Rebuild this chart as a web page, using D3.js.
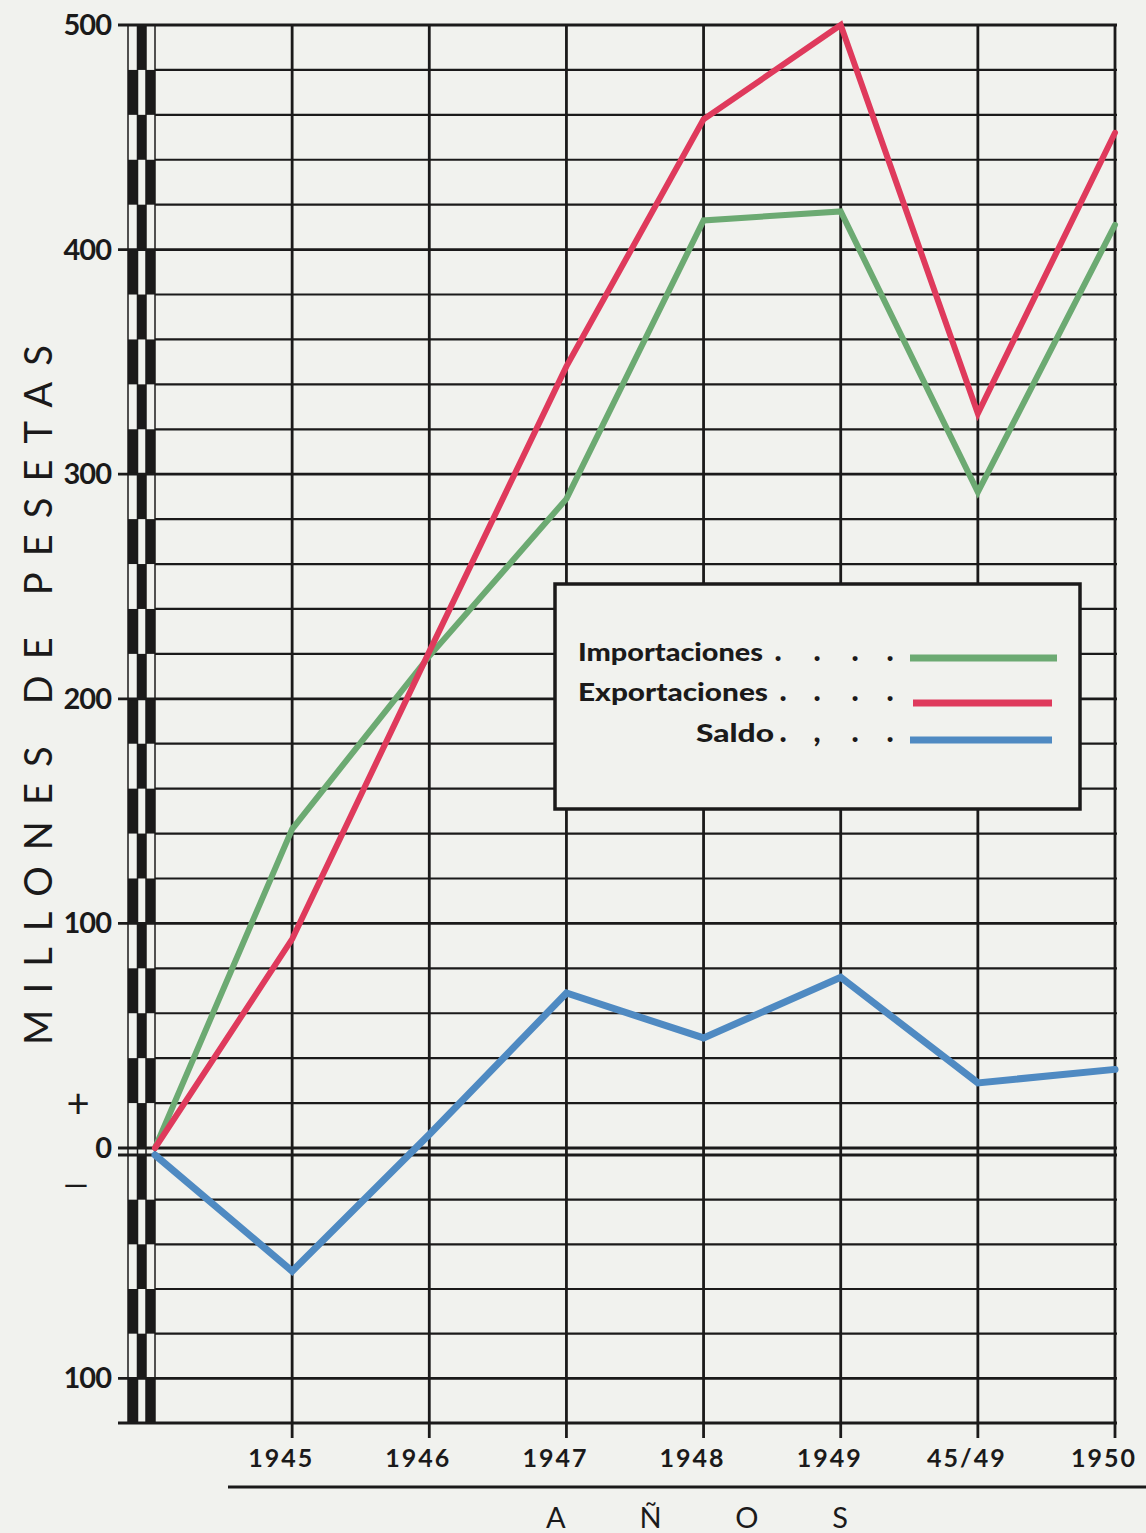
<!DOCTYPE html>
<html>
<head>
<meta charset="utf-8">
<script src="https://cdn.jsdelivr.net/npm/d3@7/dist/d3.min.js"></script>
<style>
  html, body { margin: 0; padding: 0; background: #f1f2ee; }
  svg { display: block; }
  text { font-family: "Lato", "DejaVu Sans", sans-serif; fill: #1b1a1a; }
</style>
</head>
<body>
<svg id="chart" width="1146" height="1533"></svg>
<script>
// Years on the horizontal axis (first slot is the origin, unlabeled)
const categories = ["", "1945", "1946", "1947", "1948", "1949", "45/49", "1950"];
// Millions of pesetas
const importaciones = [0, 142, 219, 289, 413, 417, 292, 411];
const exportaciones = [0, 93, 221, 348, 458, 500, 327, 452];
const saldo = [0, -52, 6, 69, 49, 76, 29, 35];
// Vertical axis labels (negative side is labelled by magnitude)
const yTickValues = [500, 400, 300, 200, 100, 0, -100];
const yTickLabels = ["500", "400", "300", "200", "100", "0", "100"];
const seriesNames = ["Importaciones", "Exportaciones", "Saldo"];
const seriesColors = ["#6caa72", "#df3a5c", "#4f8ac2"];

const svg = d3.select("#chart");
const ink = "#1b1a1a";

// Scales: the positive and negative halves are drawn from separate baselines
const x = d3.scalePoint().domain(categories).range([155, 1115]);
const yPos = d3.scaleLinear().domain([0, 500]).range([1148, 25]);
const yNeg = d3.scaleLinear().domain([-120, 0]).range([1423, 1155]);
const yAny = v => v > 0 ? yPos(v) : yNeg(v);

const xLeft = x(categories[0]);
const xRight = x(categories[categories.length - 1]);

// Checkered band along the left edge
const band = svg.append("g");
const cols = [128, 137.5, 146, 155];
function bandRows(scale, lo, hi, startParity) {
  const rows = d3.range(lo, hi, 20);
  rows.forEach((v, i) => {
    const yTop = scale(v + 20), yBot = scale(v);
    for (let c = 0; c < 3; c++) {
      const black = ((i + c + startParity) % 2) === 0;
      if (black) {
        band.append("rect")
          .attr("x", cols[c]).attr("y", yTop)
          .attr("width", cols[c + 1] - cols[c]).attr("height", yBot - yTop)
          .attr("fill", ink);
      }
    }
  });
}
bandRows(yPos, 0, 500, 1);
bandRows(yNeg, -120, 0, 0);
cols.forEach(cx => {
  band.append("line")
    .attr("x1", cx).attr("x2", cx)
    .attr("y1", yPos(500)).attr("y2", yNeg(-120))
    .attr("stroke", ink).attr("stroke-width", 1.5);
});

// Horizontal grid lines every 20 units
const grid = svg.append("g").attr("stroke", ink);
const posLines = d3.range(0, 501, 20);
const negLines = d3.range(-120, 1, 20);
posLines.forEach(v => {
  const major = v % 100 === 0;
  grid.append("line")
    .attr("x1", major ? 118 : xLeft).attr("x2", xRight + 2)
    .attr("y1", yPos(v)).attr("y2", yPos(v))
    .attr("stroke-width", major ? 2.8 : 2.2);
});
negLines.forEach(v => {
  const major = v % 100 === 0 || v === -120;
  grid.append("line")
    .attr("x1", major ? 118 : xLeft).attr("x2", xRight + 2)
    .attr("y1", yNeg(v)).attr("y2", yNeg(v))
    .attr("stroke-width", major ? 2.8 : 2.2);
});

// Vertical grid lines, continuing below the frame as ticks
categories.slice(1).forEach(c => {
  grid.append("line")
    .attr("x1", x(c)).attr("x2", x(c))
    .attr("y1", yPos(500)).attr("y2", yNeg(-120) + 15)
    .attr("stroke-width", 2.8);
});

// Vertical axis labels
const yLab = svg.append("g");
yTickValues.forEach((v, i) => {
  yLab.append("text")
    .attr("x", 111).attr("y", (v >= 0 ? yPos(v) : yNeg(v)) + 10)
    .attr("text-anchor", "end")
    .attr("font-size", 29).attr("font-weight", 700)
    .attr("letter-spacing", -1)
    .text(yTickLabels[i]);
});
yLab.append("text").attr("x", 78).attr("y", 1118)
  .attr("text-anchor", "middle").attr("font-size", 40).text("+");
yLab.append("text").attr("x", 76).attr("y", 1196)
  .attr("text-anchor", "middle").attr("font-size", 32).text("—");

// Vertical axis title
svg.append("text")
  .attr("transform", "translate(52,695) rotate(-90)")
  .attr("text-anchor", "middle")
  .attr("font-size", 38).attr("font-weight", 400)
  .attr("textLength", 700).attr("lengthAdjust", "spacing")
  .text("MILLONES DE PESETAS");

// Horizontal axis labels
categories.slice(1).forEach(c => {
  svg.append("text")
    .attr("x", x(c) - 11).attr("y", 1467)
    .attr("text-anchor", "middle")
    .attr("font-size", 25).attr("font-weight", 700)
    .attr("letter-spacing", 2)
    .text(c);
});
svg.append("line")
  .attr("x1", 228).attr("x2", 1146)
  .attr("y1", 1487).attr("y2", 1487)
  .attr("stroke", ink).attr("stroke-width", 3);
svg.append("text")
  .attr("x", 546).attr("y", 1528)
  .attr("font-size", 29).attr("font-weight", 400)
  .attr("textLength", 302).attr("lengthAdjust", "spacing")
  .text("AÑOS");

// Data lines
const line = d3.line().x((d, i) => x(categories[i]));
const seriesData = [importaciones, exportaciones, saldo];
seriesData.forEach((vals, k) => {
  const yf = k === 2 ? yAny : yPos;
  svg.append("path")
    .datum(vals)
    .attr("d", line.y(d => yf(d)))
    .attr("fill", "none")
    .attr("stroke", seriesColors[k])
    .attr("stroke-width", k === 2 ? 7 : 6)
    .attr("stroke-linejoin", "miter")
    .attr("stroke-linecap", "round");
});

// Legend box
const lg = svg.append("g");
lg.append("rect")
  .attr("x", 555).attr("y", 584).attr("width", 525).attr("height", 225)
  .attr("fill", "#f1f2ee").attr("stroke", ink).attr("stroke-width", 3.5);
const legendRows = [
  { x0: 578, len: 185, y: 661, dots: [".", ".", ".", "."], dx: [778, 817, 855, 890], line: [910, 1057, 658] },
  { x0: 578, len: 190, y: 701, dots: [".", ".", ".", "."], dx: [783, 817, 855, 890], line: [913, 1052, 703] },
  { x0: 696, len: 78,  y: 742, dots: [".", ",", ".", "."], dx: [783, 817, 855, 890], line: [910, 1052, 740] }
];
legendRows.forEach((r, i) => {
  lg.append("text")
    .attr("x", r.x0).attr("y", r.y)
    .attr("font-size", 24).attr("font-weight", 900)
    .attr("textLength", r.len).attr("lengthAdjust", "spacingAndGlyphs")
    .text(seriesNames[i]);
  r.dots.forEach((d, j) => {
    lg.append("text")
      .attr("x", r.dx[j]).attr("y", r.y)
      .attr("text-anchor", "middle")
      .attr("font-size", 30).attr("font-weight", 900)
      .text(d);
  });
  lg.append("line")
    .attr("x1", r.line[0]).attr("x2", r.line[1])
    .attr("y1", r.line[2]).attr("y2", r.line[2])
    .attr("stroke", seriesColors[i]).attr("stroke-width", 7);
});
</script>
</body>
</html>
